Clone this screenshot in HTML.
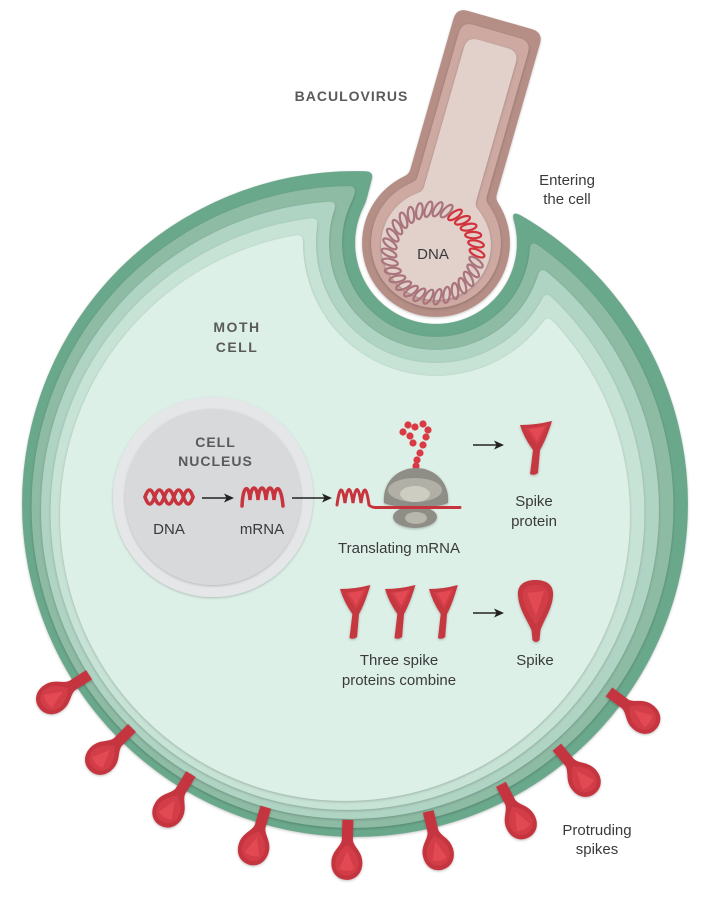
<!DOCTYPE html>
<html><head><meta charset="utf-8"><style>
html,body{margin:0;padding:0;background:#fff;}
svg{display:block;}
text{font-family:"Liberation Sans",Arial,sans-serif;}
.lab{font-size:15px;fill:#3a3a3a;text-anchor:middle;}
.cap{font-size:14px;font-weight:bold;fill:#5a5a5a;text-anchor:middle;letter-spacing:1px;}
</style></head><body>
<svg width="714" height="899" viewBox="0 0 714 899" xmlns="http://www.w3.org/2000/svg">
<defs>
  <filter id="sh" x="-10%" y="-10%" width="120%" height="120%">
    <feDropShadow dx="0" dy="1" stdDeviation="1.4" flood-color="#000" flood-opacity="0.22"/>
  </filter>
  <filter id="rnd" x="-5%" y="-5%" width="110%" height="110%" color-interpolation-filters="sRGB">
    <feGaussianBlur in="SourceGraphic" stdDeviation="3.5" result="b"/>
    <feComponentTransfer in="b" result="t"><feFuncA type="linear" slope="14" intercept="-6.5"/></feComponentTransfer>
    <feDropShadow in="t" dx="0" dy="1" stdDeviation="1.4" flood-color="#000" flood-opacity="0.22"/>
  </filter>
  <filter id="rndv" x="-20%" y="-20%" width="140%" height="140%" color-interpolation-filters="sRGB">
    <feGaussianBlur in="SourceGraphic" stdDeviation="3" result="b"/>
    <feComponentTransfer in="b" result="t"><feFuncA type="linear" slope="14" intercept="-6.5"/></feComponentTransfer>
    <feDropShadow in="t" dx="0" dy="1" stdDeviation="1.4" flood-color="#000" flood-opacity="0.22"/>
  </filter>
  <filter id="sh2" x="-30%" y="-30%" width="160%" height="160%">
    <feDropShadow dx="0" dy="1" stdDeviation="1.2" flood-color="#000" flood-opacity="0.25"/>
  </filter>
  <g id="notch">
    <circle cx="436" cy="243" r="81"/>
    <rect x="-52" y="-340" width="104" height="340" transform="translate(436,243) rotate(16)"/>
    <polygon points="356,240 374,171 380,40 440,40 440,240"/>
  </g>
  <mask id="m0" maskUnits="userSpaceOnUse" x="0" y="0" width="714" height="899">
    <rect width="714" height="899" fill="#000"/>
    <circle cx="355" cy="504" r="333" fill="#fff"/>
    <use href="#notch" fill="#000"/>
  </mask>
  <mask id="m1" maskUnits="userSpaceOnUse" x="0" y="0" width="714" height="899">
    <rect width="714" height="899" fill="#000"/>
    <circle cx="352.5" cy="507" r="321" fill="#fff"/>
    <use href="#notch" fill="#000" stroke="#000" stroke-width="26" stroke-linejoin="round"/>
  </mask>
  <mask id="m2" maskUnits="userSpaceOnUse" x="0" y="0" width="714" height="899">
    <rect width="714" height="899" fill="#000"/>
    <circle cx="350" cy="510" r="309" fill="#fff"/>
    <use href="#notch" fill="#000" stroke="#000" stroke-width="52" stroke-linejoin="round"/>
  </mask>
  <mask id="m3" maskUnits="userSpaceOnUse" x="0" y="0" width="714" height="899">
    <rect width="714" height="899" fill="#000"/>
    <circle cx="347.5" cy="513" r="297" fill="#fff"/>
    <use href="#notch" fill="#000" stroke="#000" stroke-width="78" stroke-linejoin="round"/>
  </mask>
  <mask id="m4" maskUnits="userSpaceOnUse" x="0" y="0" width="714" height="899">
    <rect width="714" height="899" fill="#000"/>
    <circle cx="345" cy="516" r="285" fill="#fff"/>
    <use href="#notch" fill="#000" stroke="#000" stroke-width="104" stroke-linejoin="round"/>
  </mask>
  <g id="pspike">
    <path d="M316,-5.5 L336,-5.5 C343,-6.5 347,-15 358,-15.5 C369,-16 376,-9 376,0 C376,9 369,16 358,15.5 C347,15 343,6.5 336,5.5 L316,5.5 Z" fill="#c5363f"/>
    <path d="M341,0 C347,-7 352,-11.5 360,-11.5 C367,-11.5 371.5,-6 371.5,0 C371.5,6 367,11.5 360,11.5 C352,11.5 347,7 341,0 Z" fill="#d23e47"/>
    <path d="M347,0 L365,-7.5 Q368.5,0 365,7.5 Z" fill="#e24a53"/>
  </g>
  <g id="sprot">
    <path d="M0,4 Q16,4 32,0 Q26,19 20,29 L18,52 Q14,55 10,53 L13,29 Q4,17 0,4 Z" fill="#c6373f"/>
    <path d="M5,7 Q16,7 28,3 Q23,15 17,24 Q10,15 5,7 Z" fill="#d23e47"/>
    <path d="M9,8 L25,5.5 L17,20 Z" fill="#e24a53"/>
  </g>
</defs>

<!-- cell membrane layers -->
<g filter="url(#rnd)"><rect width="714" height="899" fill="#6aa88c" mask="url(#m0)"/></g>
<g filter="url(#rnd)"><rect width="714" height="899" fill="#8ebba4" mask="url(#m1)"/></g>
<g filter="url(#rnd)"><rect width="714" height="899" fill="#b0d4c4" mask="url(#m2)"/></g>
<g filter="url(#rnd)"><rect width="714" height="899" fill="#c7e3d6" mask="url(#m3)"/></g>
<g filter="url(#rnd)"><rect width="714" height="899" fill="#ddf0e8" mask="url(#m4)"/></g>

<!-- baculovirus -->
<g filter="url(#rndv)">
  <g fill="#b58e86">
    <circle cx="436" cy="243" r="74"/>
    <rect x="-45" y="-232" width="90" height="232" rx="9" transform="translate(436,243) rotate(16)"/>
  </g>
</g>
<g filter="url(#rndv)">
  <g fill="#cda9a2">
    <circle cx="436" cy="243" r="65"/>
    <rect x="-36" y="-220" width="72" height="220" rx="9" transform="translate(436,243) rotate(16)"/>
  </g>
</g>
<g filter="url(#rndv)">
  <g fill="#e2d0cb">
    <circle cx="436" cy="245" r="55"/>
    <rect x="-27" y="-207" width="54" height="207" rx="9" transform="translate(436,243) rotate(16)"/>
  </g>
</g>
<!-- DNA ring -->
<g transform="translate(433,253)" fill="none" stroke-width="2.2">
  <g stroke="#d2323c">
    <ellipse cx="44" cy="0" rx="8" ry="3.2" transform="rotate(0) rotate(25 44 0)"/>
    <ellipse cx="44" cy="0" rx="8" ry="3.2" transform="rotate(300) rotate(25 44 0)"/>
    <ellipse cx="44" cy="0" rx="8" ry="3.2" transform="rotate(312) rotate(25 44 0)"/>
    <ellipse cx="44" cy="0" rx="8" ry="3.2" transform="rotate(324) rotate(25 44 0)"/>
    <ellipse cx="44" cy="0" rx="8" ry="3.2" transform="rotate(336) rotate(25 44 0)"/>
    <ellipse cx="44" cy="0" rx="8" ry="3.2" transform="rotate(348) rotate(25 44 0)"/>
  </g>
  <g stroke="#a9747c">
    <ellipse cx="44" cy="0" rx="8" ry="3.2" transform="rotate(12) rotate(25 44 0)"/>
    <ellipse cx="44" cy="0" rx="8" ry="3.2" transform="rotate(24) rotate(25 44 0)"/>
    <ellipse cx="44" cy="0" rx="8" ry="3.2" transform="rotate(36) rotate(25 44 0)"/>
    <ellipse cx="44" cy="0" rx="8" ry="3.2" transform="rotate(48) rotate(25 44 0)"/>
    <ellipse cx="44" cy="0" rx="8" ry="3.2" transform="rotate(60) rotate(25 44 0)"/>
    <ellipse cx="44" cy="0" rx="8" ry="3.2" transform="rotate(72) rotate(25 44 0)"/>
    <ellipse cx="44" cy="0" rx="8" ry="3.2" transform="rotate(84) rotate(25 44 0)"/>
    <ellipse cx="44" cy="0" rx="8" ry="3.2" transform="rotate(96) rotate(25 44 0)"/>
    <ellipse cx="44" cy="0" rx="8" ry="3.2" transform="rotate(108) rotate(25 44 0)"/>
    <ellipse cx="44" cy="0" rx="8" ry="3.2" transform="rotate(120) rotate(25 44 0)"/>
    <ellipse cx="44" cy="0" rx="8" ry="3.2" transform="rotate(132) rotate(25 44 0)"/>
    <ellipse cx="44" cy="0" rx="8" ry="3.2" transform="rotate(144) rotate(25 44 0)"/>
    <ellipse cx="44" cy="0" rx="8" ry="3.2" transform="rotate(156) rotate(25 44 0)"/>
    <ellipse cx="44" cy="0" rx="8" ry="3.2" transform="rotate(168) rotate(25 44 0)"/>
    <ellipse cx="44" cy="0" rx="8" ry="3.2" transform="rotate(180) rotate(25 44 0)"/>
    <ellipse cx="44" cy="0" rx="8" ry="3.2" transform="rotate(192) rotate(25 44 0)"/>
    <ellipse cx="44" cy="0" rx="8" ry="3.2" transform="rotate(204) rotate(25 44 0)"/>
    <ellipse cx="44" cy="0" rx="8" ry="3.2" transform="rotate(216) rotate(25 44 0)"/>
    <ellipse cx="44" cy="0" rx="8" ry="3.2" transform="rotate(228) rotate(25 44 0)"/>
    <ellipse cx="44" cy="0" rx="8" ry="3.2" transform="rotate(240) rotate(25 44 0)"/>
    <ellipse cx="44" cy="0" rx="8" ry="3.2" transform="rotate(252) rotate(25 44 0)"/>
    <ellipse cx="44" cy="0" rx="8" ry="3.2" transform="rotate(264) rotate(25 44 0)"/>
    <ellipse cx="44" cy="0" rx="8" ry="3.2" transform="rotate(276) rotate(25 44 0)"/>
    <ellipse cx="44" cy="0" rx="8" ry="3.2" transform="rotate(288) rotate(25 44 0)"/>
  </g>
</g>
<text x="433" y="259" class="lab" fill="#4a3c3c">DNA</text>

<!-- nucleus -->
<g filter="url(#sh)"><circle cx="213" cy="497" r="100" fill="#e5e6e7"/></g>
<g filter="url(#sh)"><circle cx="213" cy="497" r="88" fill="#d8d9da"/></g>

<!-- DNA helix -->
<g fill="none" stroke="#c8343d" stroke-width="3.5" stroke-linecap="round">
  <path d="M145,497 q4.8,-14 9.6,0 t9.6,0 t9.6,0 t9.6,0 t9.6,0"/>
  <path d="M145,497 q4.8,14 9.6,0 t9.6,0 t9.6,0 t9.6,0 t9.6,0"/>
</g>
<!-- mRNA -->
<path d="M242,506 C243,484 249,484 250,500 C251,484 257,484 258,500 C259,484 265,484 266,500 C267,484 273,484 274,500 C275,484 281,484 283,506" fill="none" stroke="#c8343d" stroke-width="3.5" stroke-linecap="round"/>

<!-- arrows -->
<g stroke="#222" stroke-width="1.5">
  <line x1="202" y1="498" x2="227" y2="498"/>
  <line x1="292" y1="498" x2="325" y2="498"/>
  <line x1="473" y1="445" x2="497" y2="445"/>
  <line x1="473" y1="613" x2="497" y2="613"/>
</g>
<g fill="#222">
  <path d="M234,498 L224,493.5 L226.5,498 L224,502.5 Z"/>
  <path d="M332,498 L322,493.5 L324.5,498 L322,502.5 Z"/>
  <path d="M504,445 L494,440.5 L496.5,445 L494,449.5 Z"/>
  <path d="M504,613 L494,608.5 L496.5,613 L494,617.5 Z"/>
</g>

<!-- ribosome -->
<g fill="#d93a44">
  <circle cx="416" cy="466" r="3.6"/>
  <circle cx="417" cy="460" r="3.6"/>
  <circle cx="420" cy="453" r="3.6"/>
  <circle cx="423" cy="445" r="3.6"/>
  <circle cx="426" cy="437" r="3.6"/>
  <circle cx="428" cy="430" r="3.6"/>
  <circle cx="423" cy="424" r="3.6"/>
  <circle cx="415" cy="427" r="3.6"/>
  <circle cx="408" cy="425" r="3.6"/>
  <circle cx="403" cy="432" r="3.6"/>
  <circle cx="410" cy="436" r="3.6"/>
  <circle cx="413" cy="443" r="3.6"/>
</g>
<g filter="url(#sh2)">
  <path d="M384,503 C382,485 395,468 416,468 C437,468 450,485 448,503 Q440,507 416,507 Q392,507 384,503 Z" fill="#8e8d86"/>
</g>
<ellipse cx="415" cy="490" rx="27" ry="12" fill="#b1b0a6"/>
<ellipse cx="415" cy="494" rx="15" ry="8" fill="#cdcdc1"/>
<g filter="url(#sh2)"><ellipse cx="415" cy="517" rx="22" ry="11" fill="#8e8d86"/></g>
<ellipse cx="416" cy="518" rx="11" ry="6" fill="#b8b7ad"/>
<path d="M337,505 Q341,476 345,503 Q349,476 353,503 Q357,476 361,503 Q365,476 369,505 Q371,507.5 377,507.5 L460,507.5" fill="none" stroke="#c8343d" stroke-width="3" stroke-linecap="round"/>

<!-- spike protein -->
<g filter="url(#sh2)">
  <use href="#sprot" transform="translate(520,421)"/>
  <use href="#sprot" transform="translate(340,585) scale(0.95,1)"/>
  <use href="#sprot" transform="translate(385,585) scale(0.95,1)"/>
  <use href="#sprot" transform="translate(429,585) scale(0.9,1)"/>
</g>
<!-- combined spike -->
<g filter="url(#sh2)">
  <path d="M535.5,580 C548,580 554,586 553,596 C552,609 544,620 540.5,630 L539.5,640 Q536,644 532.5,640 L531.5,630 C527,620 519,609 518,596 C517,586 523,580 535.5,580 Z" fill="#c6373f"/>
</g>
<path d="M535.5,585 C545,585 549,590 548.5,597 C547.5,607 541,617 536,625 C531,617 523.5,607 522.5,597 C522,590 526,585 535.5,585 Z" fill="#d23e47"/>
<path d="M527,593 L544,591 L536,616 Z" fill="#e24a53"/>

<!-- protruding spikes -->
<g filter="url(#sh2)">
  <use href="#pspike" transform="translate(355,504) rotate(147.3)"/>
  <use href="#pspike" transform="translate(355,504) rotate(134.9)"/>
  <use href="#pspike" transform="translate(355,504) rotate(121.3)"/>
  <use href="#pspike" transform="translate(355,504) rotate(106.4)"/>
  <use href="#pspike" transform="translate(355,504) rotate(91.3)"/>
  <use href="#pspike" transform="translate(355,504) rotate(76.6)"/>
  <use href="#pspike" transform="translate(355,504) rotate(62.5)"/>
  <use href="#pspike" transform="translate(355,504) rotate(50.3)"/>
  <use href="#pspike" transform="translate(355,504) rotate(36.5)"/>
</g>

<!-- labels -->
<text x="351.5" y="101" class="cap">BACULOVIRUS</text>
<text x="237" y="332" class="cap" style="letter-spacing:1.5px">MOTH</text>
<text x="237" y="352" class="cap" style="letter-spacing:1.5px">CELL</text>
<text x="215.5" y="447" class="cap">CELL</text>
<text x="215.5" y="466" class="cap">NUCLEUS</text>
<text x="169" y="534" class="lab">DNA</text>
<text x="262" y="534" class="lab">mRNA</text>
<text x="399" y="553" class="lab">Translating mRNA</text>
<text x="534" y="506" class="lab">Spike</text>
<text x="534" y="526" class="lab">protein</text>
<text x="399" y="665" class="lab">Three spike</text>
<text x="399" y="685" class="lab">proteins combine</text>
<text x="535" y="665" class="lab">Spike</text>
<text x="567" y="185" class="lab">Entering</text>
<text x="567" y="204" class="lab">the cell</text>
<text x="597" y="835" class="lab">Protruding</text>
<text x="597" y="854" class="lab">spikes</text>
</svg>
</body></html>
